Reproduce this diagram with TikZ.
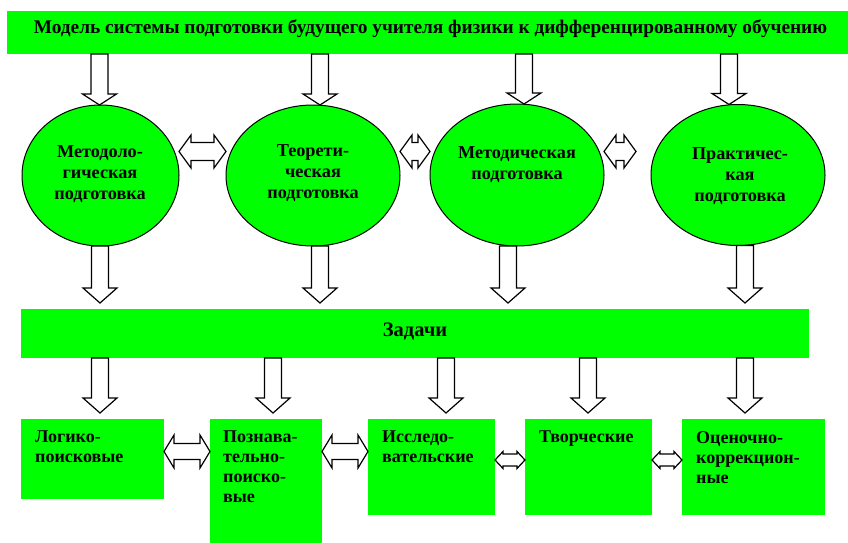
\documentclass[tikz,border=0pt]{standalone}
\usepackage{fontspec}
\setmainfont{Liberation Serif}
\usetikzlibrary{calc,shapes.geometric}
\definecolor{grn}{RGB}{0,255,0}
\tikzset{
  gbox/.style={fill=grn,draw=none,inner sep=0pt,outer sep=0pt},
  oval/.style={ellipse,draw=black,fill=grn,line width=1pt,inner sep=0pt,outer sep=0pt},
  ctxt/.style={font=\bfseries\fontsize{18.2}{21}\selectfont,align=center,inner sep=0pt},
  btxt/.style={font=\bfseries\fontsize{18}{20}\selectfont,align=left,inner sep=0pt,anchor=north west},
  ttxt/.style={font=\bfseries\fontsize{19.3}{21}\selectfont,inner sep=0pt},
  ztxt/.style={font=\bfseries\fontsize{20.5}{22}\selectfont,inner sep=0pt},
  dnarrow/.style n args={3}{draw=black,fill=white,line width=1.2pt,line join=miter,
    to path={let \p1=(\tikztostart),\p2=(\tikztotarget) in
      (\x1-#1,\y1) -- (\x1+#1,\y1) -- (\x1+#1,\y2+#3) -- (\x1+#2,\y2+#3) -- (\x1,\y2)
      -- (\x1-#2,\y2+#3) -- (\x1-#1,\y2+#3) -- cycle}},
  lrarrow/.style n args={3}{draw=black,fill=white,line width=1.2pt,line join=miter,
    to path={let \p1=(\tikztostart),\p2=(\tikztotarget) in
      (\x1,\y1) -- (\x1+#3,\y1+#2) -- (\x1+#3,\y1+#1) -- (\x2-#3,\y1+#1) -- (\x2-#3,\y1+#2)
      -- (\x2,\y1) -- (\x2-#3,\y1-#2) -- (\x2-#3,\y1-#1) -- (\x1+#3,\y1-#1) -- (\x1+#3,\y1-#2) -- cycle}},
  toparrow/.style={dnarrow={8.5pt}{17pt}{11pt}},
  midarrow/.style={dnarrow={8.5pt}{17pt}{15pt}},
  bigdbl/.style={lrarrow={9pt}{16.5pt}{12pt}},
  boxdbl/.style={lrarrow={8pt}{16.5pt}{10pt}},
  smalldbl/.style={lrarrow={6pt}{8.5pt}{8pt}}
}
\begin{document}
\begin{tikzpicture}[x=1pt,y=-1pt]
\useasboundingbox (0,0) rectangle (848,543);

% title
\node[gbox,minimum width=841pt,minimum height=43pt] (title) at (427.5,32.5) {};
\node[ttxt] (titletext) at (430.5,28.5) {Модель системы подготовки будущего учителя физики к дифференцированному обучению};

% circles
\node[oval,minimum width=157pt,minimum height=141pt] (c1) at (100.5,175.5) {};
\node[oval,minimum width=174pt,minimum height=141pt] (c2) at (313,175.5) {};
\node[oval,minimum width=174pt,minimum height=142pt] (c3) at (517,175) {};
\node[oval,minimum width=174pt,minimum height=141pt] (c4) at (738,175) {};
\node[ctxt] (c1t) at (100,174.5) {Методоло-\\гическая\\подготовка};
\node[ctxt] (c2t) at (313,173.5) {Теорети-\\ческая\\подготовка};
\node[ctxt] (c3t) at (517,164.5) {Методическая\\подготовка};
\node[ctxt] (c4t) at (740,176) {Практичес-\\кая\\подготовка};

% tasks bar
\node[gbox,minimum width=788pt,minimum height=49pt] (bar) at (415,333.5) {};
\node[ztxt] (bart) at (415,331) {Задачи};

% boxes
\node[gbox,minimum width=143pt,minimum height=80pt] (b1) at (92.5,459) {};
\node[gbox,minimum width=112pt,minimum height=124pt] (b2) at (266,481) {};
\node[gbox,minimum width=127pt,minimum height=96pt] (b3) at (431.5,467) {};
\node[gbox,minimum width=127pt,minimum height=96pt] (b4) at (588.5,467) {};
\node[gbox,minimum width=143pt,minimum height=96pt] (b5) at (753.5,467) {};
\node[btxt] (b1t) at ($(b1.north west)+(14,12)$) {Логико-\\поисковые};
\node[btxt] (b2t) at ($(b2.north west)+(13,12)$) {Познава-\\тельно-\\поиско-\\вые};
\node[btxt] (b3t) at ($(b3.north west)+(14,12)$) {Исследо-\\вательские};
\node[btxt] (b4t) at ($(b4.north west)+(14,12)$) {Творческие};
\node[btxt] (b5t) at ($(b5.north west)+(14,12)$) {Оценочно-\\коррекцион-\\ные};

% helper coordinates
\coordinate (ta1) at (99.5,0);
\coordinate (ta2) at (320,0);
\coordinate (ta3) at (524,0);
\coordinate (ta4) at (729,0);
\coordinate (m1) at (100,303);
\coordinate (m2) at (320,303);
\coordinate (m3) at (508,303);
\coordinate (m4) at (745,303);
\coordinate (e1) at (100,413);
\coordinate (e2) at (273,413);
\coordinate (e3) at (446,413);
\coordinate (e4) at (588,413);
\coordinate (e5) at (745,413);
\coordinate (dy) at (0,151.5);
\coordinate (d34e) at (636,151.5);
\coordinate (by1) at (0,451.5);
\coordinate (by2) at (0,460);

% top arrows
\draw[toparrow] (title.south -| ta1) to (c1.north -| ta1);
\draw[toparrow] (title.south -| ta2) to (c2.north -| ta2);
\draw[toparrow] (title.south -| ta3) to (c3.north -| ta3);
\draw[toparrow] (title.south -| ta4) to (c4.north -| ta4);

% double arrows between circles
\draw[bigdbl] (c1.east |- dy) to (c2.west |- dy);
\draw[bigdbl] (c2.east |- dy) to (c3.west |- dy);
\draw[bigdbl] (c3.east |- dy) to (d34e);

% circles to bar
\draw[midarrow] (c1.south -| m1) to (m1);
\draw[midarrow] (c2.south -| m2) to (m2);
\draw[midarrow] (c3.south -| m3) to (m3);
\draw[midarrow] (c4.south -| m4) to (m4);

% bar to boxes
\draw[midarrow] (bar.south -| e1) to (e1);
\draw[midarrow] (bar.south -| e2) to (e2);
\draw[midarrow] (bar.south -| e3) to (e3);
\draw[midarrow] (bar.south -| e4) to (e4);
\draw[midarrow] (bar.south -| e5) to (e5);

% double arrows between boxes
\draw[boxdbl] (b1.east |- by1) to (b2.west |- by1);
\draw[boxdbl] (b2.east |- by1) to (b3.west |- by1);
\draw[smalldbl] (b3.east |- by2) to (b4.west |- by2);
\draw[smalldbl] (b4.east |- by2) to (b5.west |- by2);
\end{tikzpicture}
\end{document}
